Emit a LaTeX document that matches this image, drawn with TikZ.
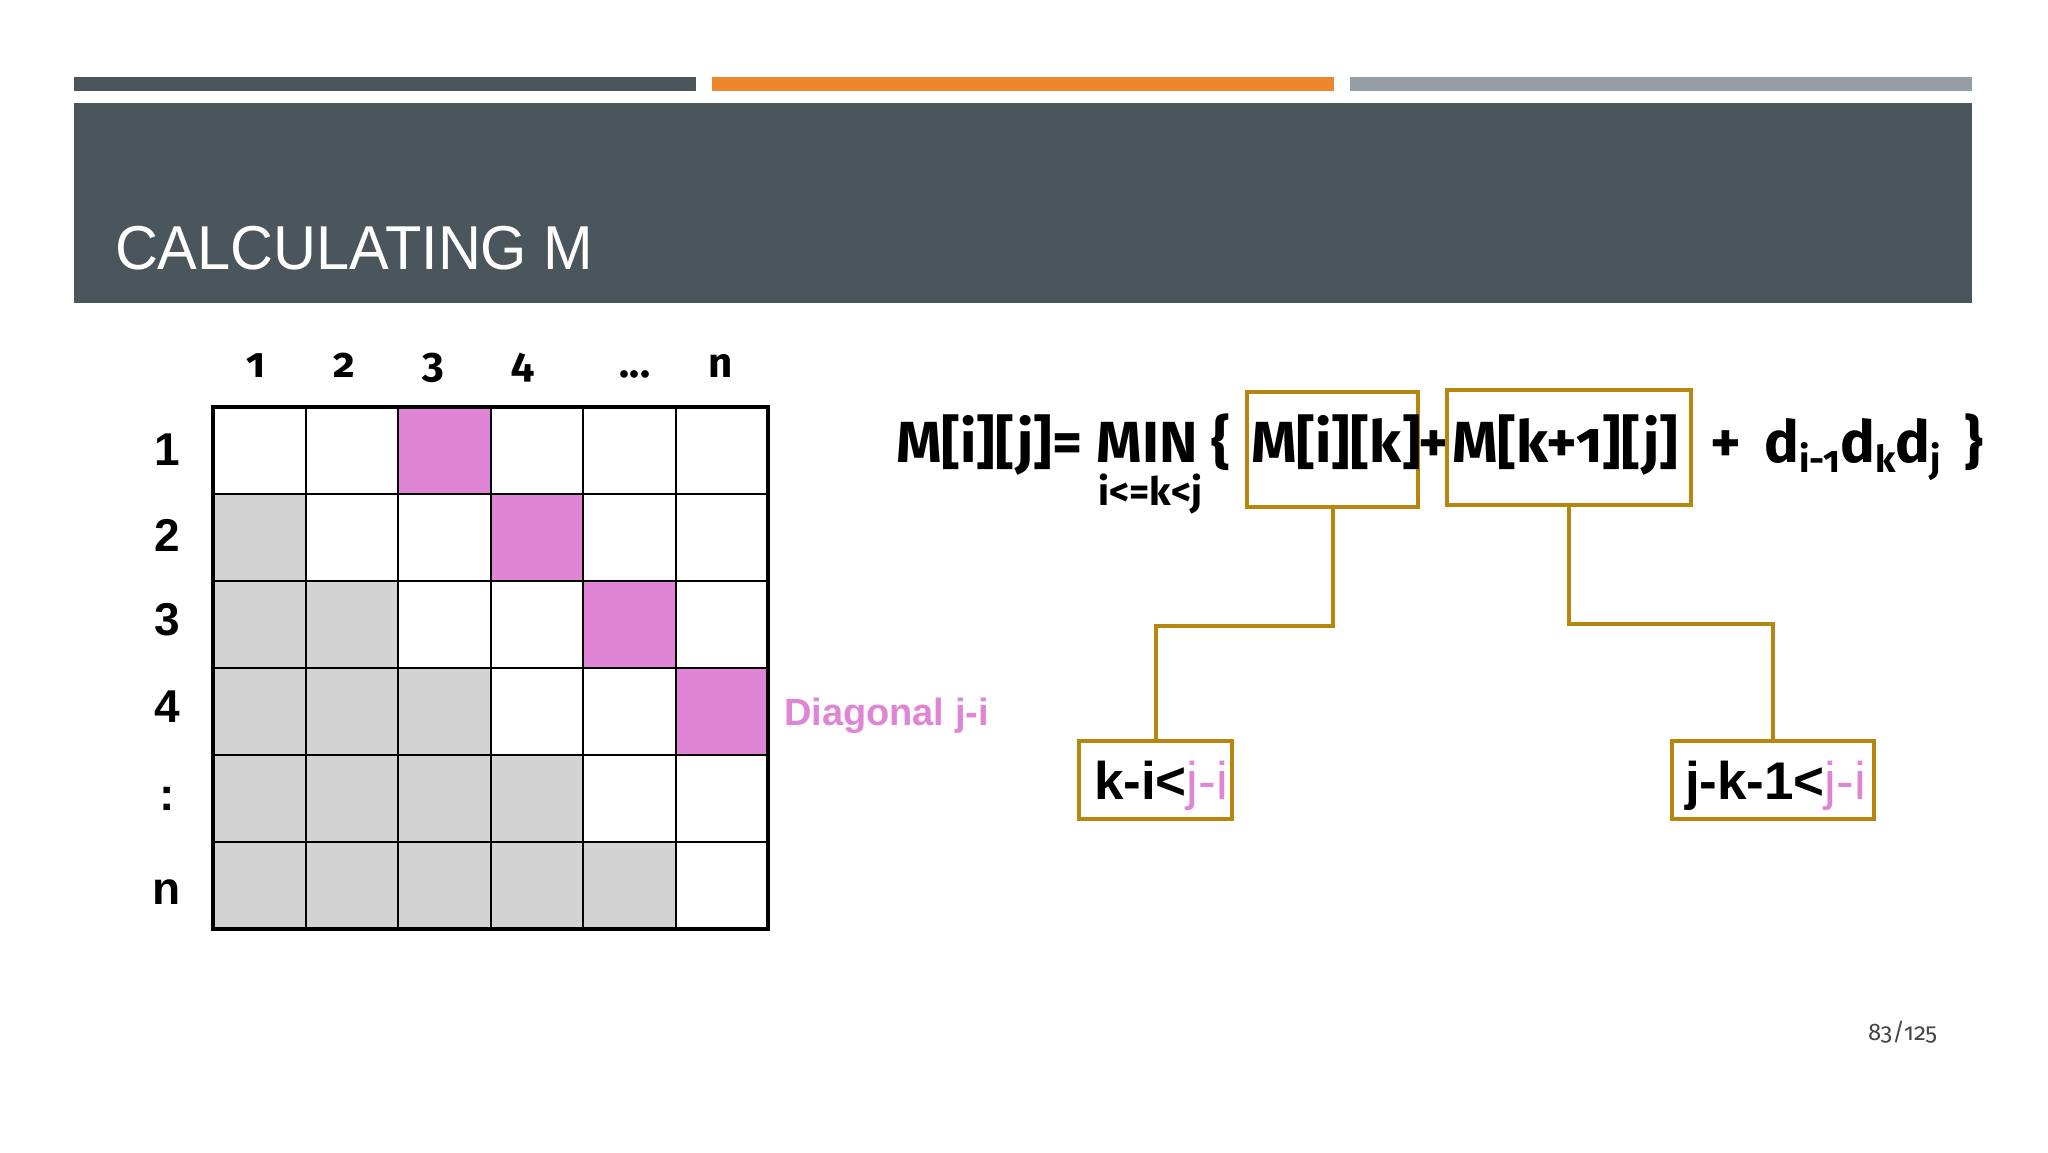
\documentclass[tikz,border=0pt]{standalone}
\usepackage{fontspec}
\setmainfont{Liberation Sans}
\newfontfamily\fira[Numbers=OldStyle]{Fira Sans}
\newfontfamily\titlefont[FakeStretch=0.96]{Liberation Sans}
\newcommand{\setfsz}[1]{\fontsize{#1}{#1}\selectfont}
\newcommand{\lowsub}[1]{\raisebox{-10pt}{\setfsz{37}#1}}
\definecolor{headdark}{RGB}{74,85,92}
\definecolor{barorange}{RGB}{236,135,45}
\definecolor{bargrey}{RGB}{149,157,165}
\definecolor{cellgrey}{RGB}{211,211,211}
\definecolor{diagpink}{RGB}{224,133,213}
\definecolor{gold}{RGB}{183,134,14}
\definecolor{pagegrey}{RGB}{70,70,70}
\begin{document}
\begin{tikzpicture}[x=1pt,y=-1pt,
  txt/.style={inner sep=0pt, outer sep=0pt, anchor=base west},
  gbox/.style={draw=gold, line width=4pt, inner sep=0pt, outer sep=0pt},
  conn/.style={draw=gold, line width=4pt},
  rowlab/.style={inner sep=0pt, font=\bfseries\setfsz{46}},
  collab/.style={inner sep=0pt, anchor=base, font=\fira\bfseries\setfsz{42}},
  formula/.style={txt, font=\fira\bfseries\setfsz{58}}]
\useasboundingbox (0,0) rectangle (2048,1152);
\fill[white] (0,0) rectangle (2048,1152);
% header
\fill[headdark] (74,77) rectangle (696,91);
\fill[barorange] (712,77) rectangle (1334,91);
\fill[bargrey] (1350,77) rectangle (1972,91);
\fill[headdark] (74,103) rectangle (1972,303);
\node[txt, text=white, font=\titlefont\setfsz{62}] (title) at (115,269) {CALCULATING M};
% grid fills
\foreach \r in {1,...,5}{
  \pgfmathtruncatemacro\cmax{\r-1}
  \foreach \c in {0,...,\cmax}{
    \fill[cellgrey] ({213+92.5*\c},{407+87*\r}) rectangle ++(92.5,87);
  }
}
\foreach \r in {0,...,3}{
  \fill[diagpink] ({213+92.5*(\r+2)},{407+87*\r}) rectangle ++(92.5,87);
}
\foreach \i in {1,...,5}{
  \draw[line width=2pt] ({213+92.5*\i},407) -- ({213+92.5*\i},929);
  \draw[line width=2pt] (213,{407+87*\i}) -- (768,{407+87*\i});
}
\draw[line width=4pt] (213,407) rectangle (768,929);
% row labels
\node[rowlab] (r1) at (167,450) {1};
\node[rowlab] (r2) at (167,535) {2};
\node[rowlab] (r3) at (167,620) {3};
\node[rowlab] (r4) at (167,707) {4};
\node[rowlab] (r5) at (167,799) {:};
\node[rowlab] (r6) at (167,892) {n};
% column labels
\node[collab] (c1) at (256,377) {1};
\node[collab] (c2) at (344,377) {2};
\node[collab] (c3) at (433,377) {3};
\node[collab] (c4) at (523,377) {4};
\node[collab] (c5) at (635,377) {...};
\node[collab] (c6) at (721,377) {n};
% diagonal label
\node[txt, text=diagpink, font=\bfseries\setfsz{38}] (diag) at (784,725) {Diagonal j-i};
% formula
\node[formula] (f1) at (896,462) {M[i][j]= MIN \{};
\node[txt, font=\fira\bfseries\setfsz{39}] (f2) at (1098,505) {i<=k<j};
\node[gbox, minimum width=171pt, minimum height=115pt] (b1) at (1332.5,449.5) {};
\node[formula] (f3) at (1251,462) {M[i][k]};
\node[formula, anchor=base] (f4) at (1434,462) {+};
\node[gbox, minimum width=244pt, minimum height=115pt] (b2) at (1569,447.5) {};
\node[formula] (f5) at (1452,462) {M[k+1][j]};
\node[formula] (f6) at (1710,462) {+ \,d\lowsub{i-1}d\lowsub{k}d\lowsub{j}\, \}};
% lower boxes
\node[gbox, minimum width=153pt, minimum height=78pt] (b3) at (1155.5,780) {};
\node[gbox, minimum width=202pt, minimum height=78pt] (b4) at (1773,780) {};
\node[txt, font=\setfsz{53}] (t3) at (1094,799) {\textbf{k-i<}\textcolor{diagpink}{j-i}};
\node[txt, font=\setfsz{53}] (t4) at (1685,799) {\textbf{j-k-1<}\textcolor{diagpink}{j-i}};
% connectors
\coordinate (midL) at (0,626);
\coordinate (midR) at (0,624);
\draw[conn] (b1.south) -- (b1.south |- midL) -- (b3.north |- midL) -- (b3.north);
\draw[conn] (b2.south) -- (b2.south |- midR) -- (b4.north |- midR) -- (b4.north);
% page number
\node[txt, text=pagegrey, font=\fira\setfsz{24}] (page) at (1868,1040) {83/125};
\end{tikzpicture}
\end{document}
